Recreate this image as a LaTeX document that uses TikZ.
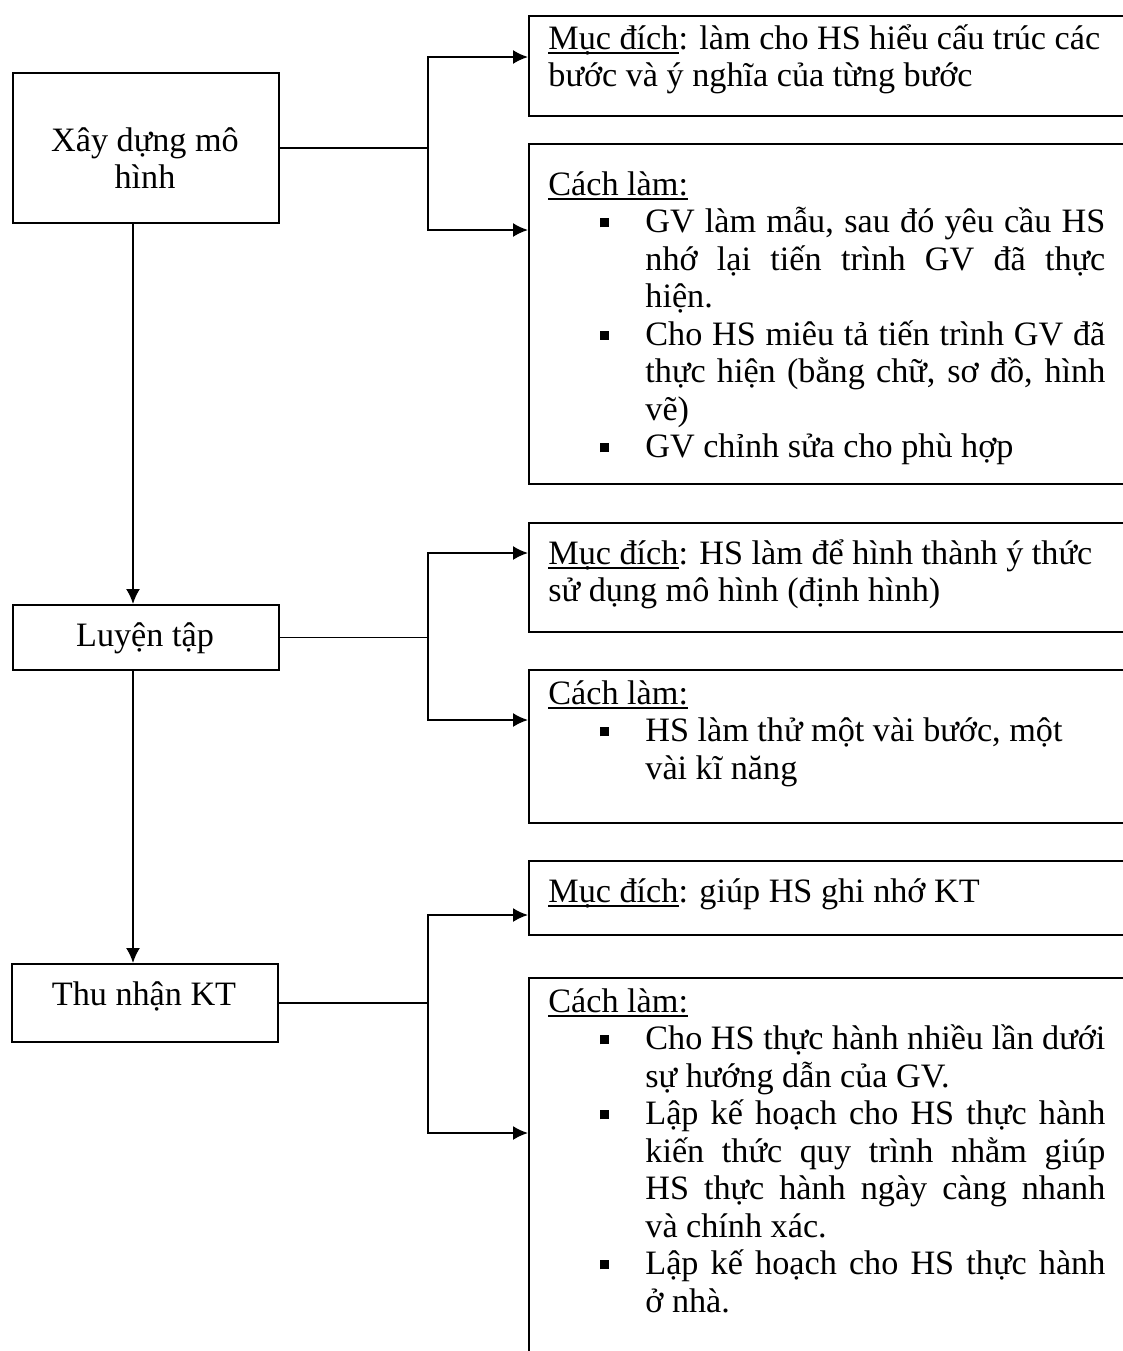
\documentclass[tikz,border=0pt]{standalone}
\usepackage{fontspec}
\setmainfont{Liberation Serif}
\usetikzlibrary{arrows.meta}

% body text size with a fixed line pitch
\newcommand\txtfont{\fontsize{17.1}{18.75}\selectfont\lineskiplimit=-100pt\relax\lineskip=0pt\relax}
% underline at a fixed depth below the baseline
\newsavebox\ulbox
\newcommand\undl[1]{\leavevmode\sbox\ulbox{#1}\rlap{\rule[-2.3pt]{\wd\ulbox}{0.85pt}}\usebox\ulbox}
% a justified line of a bullet item
\newcommand\jl[1]{\makebox[230pt][s]{#1}}
% square bullet and hanging indent of bullet items
\newcommand\bul{\hspace*{26pt}\rule[2.6pt]{4.5pt}{4.5pt}\hspace*{18pt}}
\newcommand\ind{\hspace*{48.5pt}}

\begin{document}
\begin{tikzpicture}[x=0.5pt,y=-0.5pt,
  box/.style={draw,line width=1pt,inner sep=0pt,anchor=north west},
  conn/.style={line width=0.9pt},
  arr/.style={conn,-{Latex[length=7.5pt,width=7pt]}},
  twoarr/.style={conn,{Latex[length=7.5pt,width=7pt]}-{Latex[length=7.5pt,width=7pt]}},
  txt/.style={inner sep=0pt,anchor=base west,font=\txtfont}]

\useasboundingbox (0,0) rectangle (1123,1351);

% ---- left column: the three stages
\node[box,minimum width=133pt,minimum height=75pt] (b1) at (12,72) {};
\node[box,minimum width=133pt,minimum height=32.5pt] (b2) at (12,604) {};
\node[box,minimum width=133pt,minimum height=39pt] (b3) at (11,963) {};

\node[txt,anchor=base] (b1t) at (145,151) {\parbox[t]{133pt}{\centering Xây dựng mô\\hình}};
\node[txt,anchor=base] (b2t) at (145,646) {Luyện tập};
\node[txt,anchor=base] (b3t) at (144,1005) {Thu nhận KT};

% ---- right column: purpose and method of each stage
\node[box,minimum width=310pt,minimum height=50pt] (m1) at (528,15) {};
\node[box,minimum width=310pt,minimum height=170pt] (c1) at (528,143) {};
\node[box,minimum width=310pt,minimum height=54.5pt] (m2) at (528,522) {};
\node[box,minimum width=310pt,minimum height=76.5pt] (c2) at (528,669) {};
\node[box,minimum width=310pt,minimum height=37pt] (m3) at (528,860) {};
\node[box,minimum width=310pt,minimum height=220pt] (c3) at (528,977) {};

\node[txt] (m1t) at (548,49) {\parbox[t]{290pt}{%
\undl{Mục đích}: làm cho HS hiểu cấu trúc các\\
bước và ý nghĩa của từng bước}};

\node[txt] (c1t) at (548,195) {\parbox[t]{290pt}{%
\undl{Cách làm:}\\
\bul\jl{GV làm mẫu, sau đó yêu cầu HS}\\
\ind\jl{nhớ lại tiến trình GV đã thực}\\
\ind hiện.\\
\bul\jl{Cho HS miêu tả tiến trình GV đã}\\
\ind\jl{thực hiện (bằng chữ, sơ đồ, hình}\\
\ind vẽ)\\
\bul GV chỉnh sửa cho phù hợp}};

\node[txt] (m2t) at (548,564) {\parbox[t]{290pt}{%
\undl{Mục đích}: HS làm để hình thành ý thức\\
sử dụng mô hình (định hình)}};

\node[txt] (c2t) at (548,704) {\parbox[t]{290pt}{%
\undl{Cách làm:}\\
\bul HS làm thử một vài bước, một\\
\ind vài kĩ năng}};

\node[txt] (m3t) at (548,902) {\undl{Mục đích}: giúp HS ghi nhớ KT};

\node[txt] (c3t) at (548,1012) {\parbox[t]{290pt}{%
\undl{Cách làm:}\\
\bul\jl{Cho HS thực hành nhiều lần dưới}\\
\ind sự hướng dẫn của GV.\\
\bul\jl{Lập kế hoạch cho HS thực hành}\\
\ind\jl{kiến thức quy trình nhằm giúp}\\
\ind\jl{HS thực hành ngày càng nhanh}\\
\ind và chính xác.\\
\bul\jl{Lập kế hoạch cho HS thực hành}\\
\ind ở nhà.}};

% ---- branching connectors
\coordinate (j1a) at (428,57);   \coordinate (j1b) at (428,230);
\coordinate (j2a) at (428,553);  \coordinate (j2b) at (428,720);
\coordinate (j3a) at (428,915);  \coordinate (j3b) at (428,1133);

\draw[conn] (b1.east) -- (b1.east -| j1a);
\draw[twoarr] (m1.west |- j1a) -- (j1a) -- (j1b) -- (j1b -| c1.west);
\draw[conn] (b2.east) -- (b2.east -| j2a);
\draw[twoarr] (m2.west |- j2a) -- (j2a) -- (j2b) -- (j2b -| c2.west);
\draw[conn] (b3.east) -- (b3.east -| j3a);
\draw[twoarr] (m3.west |- j3a) -- (j3a) -- (j3b) -- (j3b -| c3.west);

% ---- sequence of stages
\coordinate (v1) at (133,222);
\coordinate (v2) at (133,669);
\draw[arr] (v1) -- (v1 |- b2.north);
\draw[arr] (v2) -- (v2 |- b3.north);

\end{tikzpicture}
\end{document}
